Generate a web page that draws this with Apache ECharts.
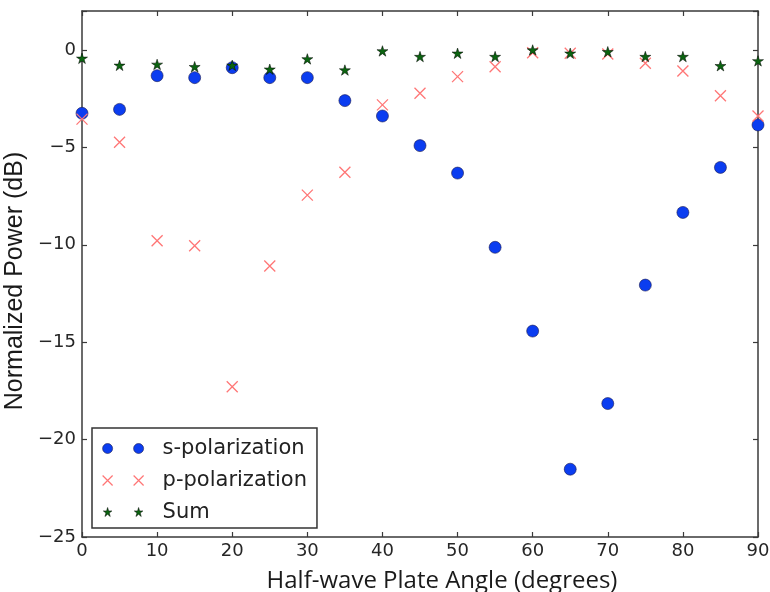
<!DOCTYPE html>
<html><head><meta charset="utf-8">
<script src="https://cdn.jsdelivr.net/npm/echarts/dist/echarts.min.js"></script>
<style>html,body{margin:0;padding:0;background:#fff}#c{width:770px;height:592px}</style>
</head><body><div id="c"></div>
<script>
const angles = [0,5,10,15,20,25,30,35,40,45,50,55,60,65,70,75,80,85,90];
const sPol = [-3.25,-3.05,-1.32,-1.42,-0.91,-1.42,-1.42,-2.6,-3.39,-4.91,-6.32,-10.13,-14.43,-21.52,-18.15,-12.07,-8.34,-6.03,-3.85];
const pPol = [-3.55,-4.74,-9.79,-10.05,-17.29,-11.09,-7.45,-6.28,-2.82,-2.22,-1.37,-0.86,-0.14,-0.17,-0.21,-0.68,-1.08,-2.35,-3.39];
const sumPow = [-0.43,-0.79,-0.74,-0.86,-0.79,-0.99,-0.46,-1.03,-0.05,-0.34,-0.17,-0.34,0.0,-0.17,-0.09,-0.34,-0.34,-0.81,-0.56];
const seriesNames = ['s-polarization','p-polarization','Sum'];
const xTitle = 'Half-wave Plate Angle (degrees)';
const yTitle = 'Normalized Power (dB)';

const pair = (ys) => angles.map((a,i)=>[a, ys[i]]);
const STAR = 'path://M50 0 L61.2 34.5 L97.6 34.5 L68.2 55.9 L79.4 90.5 L50 69.1 L20.6 90.5 L31.8 55.9 L2.4 34.5 L38.8 34.5 Z';
const XMARK = 'path://M0 0 L10 10 M10 0 L0 10';
const circ2 = 'path://M0 5 A5 5 0 1 0 10 5 A5 5 0 1 0 0 5 Z M31 5 A5 5 0 1 0 41 5 A5 5 0 1 0 31 5 Z';
const x2 = 'path://M0 0 L10 10 M10 0 L0 10 M31 0 L41 10 M41 0 L31 10';
function starPts(ox, s){
  const p=[[50,0],[61.2,34.5],[97.6,34.5],[68.2,55.9],[79.4,90.5],[50,69.1],[20.6,90.5],[31.8,55.9],[2.4,34.5],[38.8,34.5]];
  return 'M'+p.map(q=>((ox+q[0]*s/100).toFixed(2)+' '+(q[1]*s/100*1.105).toFixed(2))).join(' L')+' Z';
}
const star2 = 'path://'+starPts(0.5,9)+' '+starPts(31.5,9)+' M0 0 M41 10';

const BLUE='#0b3df0', RED='#ff7676', GREEN='#0b6410';
const fmt = v => (v%5===0 ? String(v).replace('-','\u2212') : '');
const axisLine = {show:true, onZero:false, lineStyle:{color:'#3a3a3a', width:1.5}};
const tick = {show:true, inside:true, length:5, lineStyle:{color:'#3a3a3a', width:1.2}};

const chart = echarts.init(document.getElementById('c'));
chart.setOption({
  animation:false,
  backgroundColor:'#fff',
  grid:{left:82, right:12, top:11, bottom:55, containLabel:false, outerBoundsMode:'none'},
  xAxis:[
    {type:'value', min:0, max:90, interval:10, position:'bottom',
     axisLine, axisTick:tick, splitLine:{show:false},
     axisLabel:{margin:5, fontFamily:'DejaVu Sans', fontSize:18, color:'#262626'},
     name:xTitle, nameLocation:'middle', nameGap:32,
     nameTextStyle:{fontFamily:'Open Sans', fontSize:24, color:'#1a1a1a', padding:[0,0,0,44]}},
    {type:'value', min:0, max:90, interval:10, position:'top',
     axisLine, axisTick:tick, splitLine:{show:false}, axisLabel:{show:false}}
  ],
  yAxis:[
    {type:'value', min:-25, max:2, interval:5, position:'left',
     axisLine, axisTick:tick, splitLine:{show:false},
     axisLabel:{margin:6, fontFamily:'DejaVu Sans', fontSize:18, color:'#262626', formatter:fmt},
     name:yTitle, nameLocation:'middle', nameGap:47, nameRotate:90,
     nameTextStyle:{fontFamily:'Liberation Sans', fontSize:25, color:'#1a1a1a', padding:[0,14,0,0]}},
    {type:'value', min:-25, max:2, interval:5, position:'right',
     axisLine, axisTick:tick, splitLine:{show:false}, axisLabel:{show:false}}
  ],
  legend:{
    orient:'vertical', left:92, top:428,
    padding:[10,10,5,10], itemGap:11, itemWidth:41, itemHeight:10,
    borderColor:'#333', borderWidth:1.5, backgroundColor:'#fff',
    selectedMode:false,
    textStyle:{fontFamily:'DejaVu Sans', fontSize:21, color:'#222', padding:[0,0,0,14]},
    data:[
      {name:seriesNames[0], icon:circ2, itemStyle:{color:BLUE, borderColor:'#1a1a50', borderWidth:0.6}},
      {name:seriesNames[1], icon:x2, itemStyle:{color:'rgba(0,0,0,0)', borderColor:RED, borderWidth:1.2}},
      {name:seriesNames[2], icon:star2, itemStyle:{color:GREEN, borderColor:'#000', borderWidth:0.5}}
    ]
  },
  series:[
    {name:seriesNames[0], type:'scatter', data:pair(sPol), symbol:'circle', symbolSize:12,
     itemStyle:{color:BLUE, borderColor:'#1a1a50', borderWidth:0.6, opacity:1}},
    {name:seriesNames[1], type:'scatter', data:pair(pPol), symbol:XMARK, symbolSize:11,
     itemStyle:{color:'rgba(0,0,0,0)', borderColor:RED, borderWidth:1.3, opacity:1}},
    {name:seriesNames[2], type:'scatter', data:pair(sumPow), symbol:STAR, symbolSize:11, symbolKeepAspect:true,
     itemStyle:{color:GREEN, borderColor:'#000', borderWidth:0.5, opacity:1}}
  ]
});
</script></body></html>
